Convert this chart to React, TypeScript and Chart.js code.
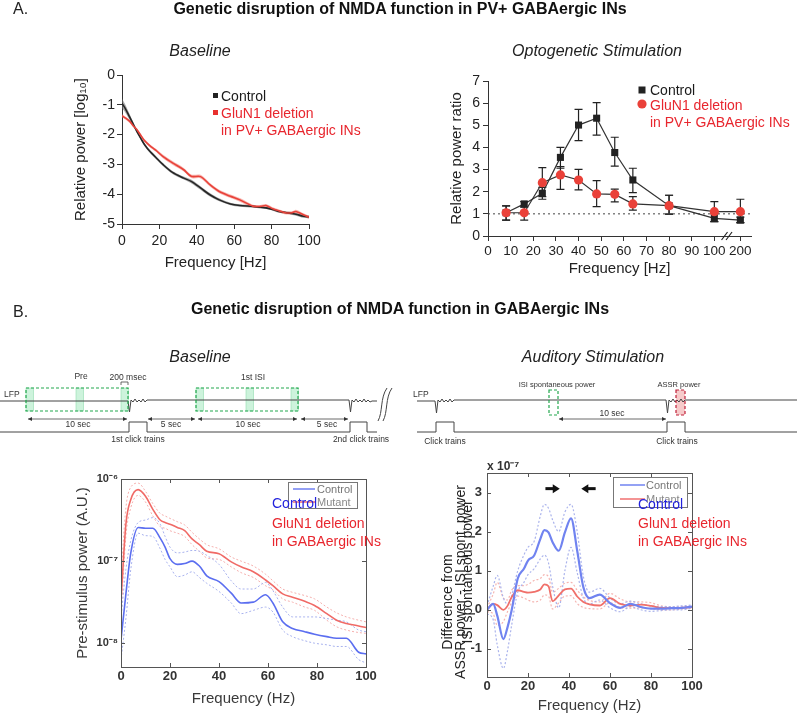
import React, { useEffect, useRef } from 'react';
import { Chart, registerables } from 'chart.js';
Chart.register(...registerables);

const FONT = '"Liberation Sans", Arial, Helvetica, sans-serif';
Chart.defaults.font.family = FONT;

// ---------------- Panel A1: Baseline relative power ----------------
const a1Freq = [0, 2, 4, 6, 8, 10, 12, 15, 18, 22, 27, 33, 37, 42, 47, 52, 58, 63, 70, 74, 77, 81, 84, 88, 91, 93, 97, 100];
const a1Control = [-0.95, -1.15, -1.4, -1.65, -1.9, -2.12, -2.33, -2.57, -2.76, -3.01, -3.27, -3.46, -3.57, -3.79, -4.02, -4.19, -4.33, -4.38, -4.41, -4.44, -4.46, -4.52, -4.58, -4.62, -4.65, -4.67, -4.74, -4.76];
const a1ControlSem = [0.16, 0.13, 0.1, 0.07, 0.05, 0.05, 0.05, 0.05, 0.05, 0.05, 0.05, 0.05, 0.06, 0.06, 0.06, 0.05, 0.04, 0.04, 0.04, 0.04, 0.04, 0.04, 0.04, 0.04, 0.05, 0.05, 0.05, 0.05];
const a1Mutant = [-1.37, -1.45, -1.55, -1.7, -1.84, -2.02, -2.2, -2.38, -2.52, -2.74, -2.95, -3.18, -3.4, -3.41, -3.68, -3.91, -4.07, -4.19, -4.4, -4.41, -4.38, -4.5, -4.56, -4.63, -4.62, -4.58, -4.69, -4.77];
const a1MutantSem = [0.05, 0.05, 0.05, 0.05, 0.05, 0.05, 0.05, 0.05, 0.05, 0.06, 0.06, 0.06, 0.06, 0.06, 0.06, 0.06, 0.06, 0.06, 0.05, 0.05, 0.05, 0.05, 0.05, 0.05, 0.05, 0.06, 0.05, 0.05];
const a1XTicks = [0, 20, 40, 60, 80, 100];
const a1YTicks = [0, -1, -2, -3, -4, -5];

// ---------------- Panel A2: Optogenetic stimulation ----------------
const a2Freq = [8, 16, 24, 32, 40, 48, 56, 64, 80, 100, 200];
const a2Control = [1.05, 1.45, 1.93, 3.55, 5.01, 5.32, 3.77, 2.53, 1.37, 0.8, 0.72];
const a2ControlLo = [0.72, 1.32, 1.66, 3.06, 4.31, 4.56, 3.16, 1.96, 0.99, 0.65, 0.6];
const a2ControlHi = [1.36, 1.55, 2.2, 4.0, 5.72, 6.02, 4.46, 3.06, 1.84, 1.0, 0.85];
const a2Mutant = [1.05, 1.05, 2.41, 2.76, 2.53, 1.9, 1.88, 1.45, 1.37, 1.1, 1.1];
const a2MutantLo = [0.72, 0.72, 1.78, 2.11, 2.08, 1.33, 1.54, 1.17, 0.99, 0.65, 0.6];
const a2MutantHi = [1.36, 1.3, 3.09, 3.13, 3.01, 2.5, 2.12, 1.78, 1.84, 1.55, 1.66];
const a2XTickFreqs = [0, 10, 20, 30, 40, 50, 60, 70, 80, 90, 100, 200];
const a2YTicks = [0, 1, 2, 3, 4, 5, 6, 7];
const a2Reference = 1;
const a2BreakAt = 100;
const a2BreakScale = 0.115; // compression of the axis after the break (100 -> 200 Hz)
const a2BreakMarks = [104.5, 106.5];
const axisX = (f: number) => (f <= a2BreakAt ? f : a2BreakAt + (f - a2BreakAt) * a2BreakScale);
const invAxisX = (v: number) => (v <= a2BreakAt ? v : a2BreakAt + (v - a2BreakAt) / a2BreakScale);

// ---------------- Panel B1: Pre-stimulus power (log10 values) ----------------
const b1Freq = [0, 2, 4, 7, 10, 13, 16, 18, 20, 23, 26, 29, 32, 35, 40, 45, 49, 54, 59, 62, 66, 70, 75, 79, 84, 88, 92, 97, 100];
const b1ControlLog = [-7.96, -7.4, -6.9, -6.59, -6.6, -6.6, -6.72, -6.83, -6.97, -7.04, -7.03, -7.0, -7.06, -7.18, -7.25, -7.39, -7.51, -7.5, -7.41, -7.51, -7.74, -7.82, -7.86, -7.89, -7.92, -7.94, -7.94, -8.11, -8.13];
const b1ControlHiLog = [-7.7, -7.1, -6.75, -6.53, -6.5, -6.47, -6.55, -6.7, -6.83, -6.9, -6.89, -6.87, -6.88, -6.93, -7.04, -7.24, -7.34, -7.34, -7.26, -7.36, -7.56, -7.68, -7.68, -7.68, -7.7, -7.72, -7.74, -7.84, -7.86];
const b1ControlLoLog = [-8.2, -7.7, -7.1, -6.66, -6.69, -6.7, -6.85, -6.98, -7.07, -7.19, -7.17, -7.13, -7.2, -7.27, -7.37, -7.51, -7.64, -7.6, -7.56, -7.62, -7.84, -7.92, -7.97, -8.0, -8.02, -8.04, -8.04, -8.2, -8.24];
const b1MutantLog = [-7.48, -6.55, -6.25, -6.13, -6.21, -6.37, -6.5, -6.53, -6.55, -6.59, -6.63, -6.73, -6.8, -6.88, -6.91, -7.01, -7.07, -7.13, -7.23, -7.3, -7.4, -7.44, -7.49, -7.54, -7.64, -7.72, -7.76, -7.79, -7.81];
const b1MutantHiLog = [-7.2, -6.35, -6.1, -6.05, -6.15, -6.3, -6.42, -6.45, -6.48, -6.52, -6.56, -6.65, -6.73, -6.8, -6.85, -6.95, -7.0, -7.06, -7.16, -7.24, -7.34, -7.38, -7.42, -7.46, -7.56, -7.63, -7.68, -7.72, -7.74];
const b1MutantLoLog = [-7.7, -6.7, -6.35, -6.2, -6.28, -6.45, -6.58, -6.6, -6.63, -6.66, -6.7, -6.8, -6.88, -6.96, -6.98, -7.07, -7.14, -7.2, -7.3, -7.35, -7.46, -7.5, -7.56, -7.6, -7.72, -7.8, -7.84, -7.87, -7.88];
const b1YTickExp = [-8, -7, -6];
const b1YMinExp = -8.29;
const b1YMaxExp = -6;
const b1XTicks = [0, 20, 40, 60, 80, 100];

// ---------------- Panel B2: ASSR difference (x 1e-7) ----------------
const b2Freq = [0, 3, 5, 8, 10, 12, 15, 18, 20, 23, 26, 28, 30, 32, 35, 38, 41, 44, 47, 50, 55, 60, 65, 70, 75, 80, 85, 90, 95, 100];
const b2Control = [0, 0.15, -0.15, -0.75, -0.45, -0.02, 0.8, 1.05, 1.26, 1.39, 1.81, 2.04, 1.98, 1.73, 1.51, 1.98, 2.34, 1.51, 0.58, 0.3, 0.39, 0.17, 0.05, 0.15, 0.07, 0.03, 0.03, 0.04, 0.05, 0.08];
const b2ControlHi = [0.1, 0.6, 0.88, 0.3, 0.15, 0.35, 1.0, 1.4, 1.6, 1.75, 2.4, 2.7, 2.6, 2.3, 2.0, 2.5, 2.7, 2.0, 0.85, 0.45, 0.55, 0.3, 0.15, 0.22, 0.15, 0.1, 0.08, 0.08, 0.1, 0.12];
const b2ControlLo = [-0.1, -0.25, -0.9, -1.5, -1.05, -0.4, 0.45, 0.7, 0.9, 1.05, 1.3, 1.4, 1.2, 0.6, 0.05, 1.0, 1.6, 0.95, 0.3, 0.15, 0.25, 0.05, -0.05, 0.08, 0.0, -0.04, -0.02, 0.0, 0.0, 0.04];
const b2Mutant = [0, 0.15, 0.12, 0.0, 0.1, 0.32, 0.5, 0.46, 0.44, 0.46, 0.52, 0.65, 0.6, 0.22, 0.37, 0.52, 0.54, 0.34, 0.2, 0.14, 0.11, 0.3, 0.15, 0.11, 0.13, 0.1, 0.05, 0.04, 0.05, 0.07];
const b2MutantHi = [0.05, 0.4, 0.7, 0.3, 0.25, 0.5, 0.62, 0.62, 0.65, 0.75, 0.8, 0.9, 0.85, 0.45, 0.55, 0.68, 0.7, 0.5, 0.33, 0.24, 0.2, 0.42, 0.28, 0.2, 0.2, 0.18, 0.1, 0.08, 0.08, 0.1];
const b2MutantLo = [-0.05, -0.1, -0.4, -0.3, -0.05, 0.18, 0.35, 0.3, 0.25, 0.2, 0.25, 0.38, 0.35, 0.02, 0.18, 0.35, 0.36, 0.16, 0.06, 0.03, 0.02, 0.18, 0.06, 0.04, 0.05, 0.03, 0.0, 0.0, 0.02, 0.04];
const b2YTicks = [-1, 0, 1, 2, 3];
const b2XTicks = [0, 20, 40, 60, 80, 100];
const b2YMin = -1.72;
const b2YMax = 3.5;
const b2ArrowLevel = 3.1;
const b2ArrowFrom = [28.5, 53];
const b2ArrowTo = [35.5, 46];

// ---------------- helpers ----------------
const SUP: Record<string, string> = { '-': '⁻', '0': '⁰', '1': '¹', '2': '²', '3': '³', '4': '⁴', '5': '⁵', '6': '⁶', '7': '⁷', '8': '⁸', '9': '⁹' };
const sup = (s: string) => s.split('').map((c) => SUP[c] || c).join('');

const baseOptions = () => ({
  animation: false,
  responsive: false,
  devicePixelRatio: 1,
  events: [],
  plugins: { legend: { display: false }, tooltip: { enabled: false } },
});

const fixTicks = (vals: number[]) => (s: any) => {
  s.ticks = vals.map((v) => ({ value: v }));
};

const matlabFrame = {
  id: 'matlabFrame',
  afterDatasetsDraw(chart: any) {
    const { ctx, chartArea: a, scales } = chart;
    const x = scales.x;
    const y = scales.y;
    ctx.save();
    ctx.strokeStyle = '#555';
    ctx.lineWidth = 1;
    ctx.strokeRect(Math.round(a.left) + 0.5, Math.round(a.top) + 0.5, Math.round(a.right - a.left), Math.round(a.bottom - a.top));
    ctx.beginPath();
    x.ticks.forEach((t: any) => {
      const px = Math.round(x.getPixelForValue(t.value)) + 0.5;
      ctx.moveTo(px, a.bottom);
      ctx.lineTo(px, a.bottom - 4);
      ctx.moveTo(px, a.top);
      ctx.lineTo(px, a.top + 4);
    });
    y.ticks.forEach((t: any) => {
      const py = Math.round(y.getPixelForValue(t.value)) + 0.5;
      ctx.moveTo(a.left, py);
      ctx.lineTo(a.left + 4, py);
      ctx.moveTo(a.right, py);
      ctx.lineTo(a.right - 4, py);
    });
    ctx.stroke();
    ctx.restore();
  },
};

function pts(xs: number[], ys: number[]) {
  return xs.map((x, i) => ({ x, y: ys[i] }));
}

// ---------------- chart builders ----------------
function buildA1(): any {
  const ctrlHi = a1Control.map((v, i) => v + a1ControlSem[i]);
  const ctrlLo = a1Control.map((v, i) => v - a1ControlSem[i]);
  const mutHi = a1Mutant.map((v, i) => v + a1MutantSem[i]);
  const mutLo = a1Mutant.map((v, i) => v - a1MutantSem[i]);
  const line = { pointRadius: 0, tension: 0.3, fill: false };
  return {
    type: 'line',
    data: {
      datasets: [
        { ...line, data: pts(a1Freq, a1Mutant), borderColor: '#e8423a', borderWidth: 1.6 },
        { ...line, data: pts(a1Freq, a1Control), borderColor: '#262626', borderWidth: 1.6 },
        { ...line, data: pts(a1Freq, mutHi), borderWidth: 0, borderColor: 'rgba(0,0,0,0)' },
        { ...line, data: pts(a1Freq, mutLo), borderWidth: 0, borderColor: 'rgba(0,0,0,0)', fill: '-1', backgroundColor: 'rgba(242,120,110,0.55)' },
        { ...line, data: pts(a1Freq, ctrlHi), borderWidth: 0, borderColor: 'rgba(0,0,0,0)' },
        { ...line, data: pts(a1Freq, ctrlLo), borderWidth: 0, borderColor: 'rgba(0,0,0,0)', fill: '-1', backgroundColor: 'rgba(110,110,110,0.6)' },
      ],
    },
    options: {
      ...baseOptions(),
      layout: { padding: { top: 15, right: 21, left: 0, bottom: 0 } },
      scales: {
        x: {
          type: 'linear', min: 0, max: 100,
          afterBuildTicks: fixTicks(a1XTicks),
          ticks: { color: '#222', font: { size: 14 }, padding: 4, maxRotation: 0 },
          grid: { drawOnChartArea: false, tickLength: 5, color: '#333' },
          border: { color: '#333' },
          title: { display: true, text: 'Frequency [Hz]', color: '#222', font: { size: 15 }, padding: { top: 0, bottom: 8 } },
          afterFit: (s: any) => { s.height = 56; },
        },
        y: {
          type: 'linear', min: -5, max: 0,
          afterBuildTicks: fixTicks(a1YTicks),
          ticks: { color: '#222', font: { size: 14 }, padding: 2 },
          grid: { drawOnChartArea: false, tickLength: 5, color: '#333' },
          border: { color: '#333' },
          title: { display: true, text: 'Relative power [log₁₀]', color: '#222', font: { size: 15 }, padding: { top: 12, bottom: 0 } },
          afterFit: (s: any) => { s.width = 62; },
        },
      },
    },
  };
}

function buildA2(): any {
  const errorBars = {
    id: 'errorBars',
    beforeDatasetsDraw(chart: any) {
      const { ctx, scales } = chart;
      const x = scales.x;
      const y = scales.y;
      ctx.save();
      ctx.strokeStyle = '#222';
      ctx.lineWidth = 1.2;
      [[a2ControlLo, a2ControlHi], [a2MutantLo, a2MutantHi]].forEach(([lo, hi]) => {
        a2Freq.forEach((f, i) => {
          const px = x.getPixelForValue(axisX(f));
          const pl = y.getPixelForValue(lo[i]);
          const ph = y.getPixelForValue(hi[i]);
          ctx.beginPath();
          ctx.moveTo(px, pl); ctx.lineTo(px, ph);
          ctx.moveTo(px - 4, pl); ctx.lineTo(px + 4, pl);
          ctx.moveTo(px - 4, ph); ctx.lineTo(px + 4, ph);
          ctx.stroke();
        });
      });
      ctx.restore();
    },
    afterDraw(chart: any) {
      const { ctx, scales } = chart;
      const x = scales.x;
      const yb = chart.chartArea.bottom;
      ctx.save();
      ctx.strokeStyle = '#222';
      ctx.lineWidth = 1.2;
      a2BreakMarks.forEach((v) => {
        const px = x.getPixelForValue(v);
        ctx.beginPath();
        ctx.moveTo(px - 3, yb + 4);
        ctx.lineTo(px + 3, yb - 4);
        ctx.stroke();
      });
      ctx.restore();
    },
  };
  const xMax = 116.2;
  return {
    type: 'line',
    data: {
      datasets: [
        {
          data: pts(a2Freq.map(axisX), a2Mutant), borderColor: '#333', borderWidth: 1.2, tension: 0,
          pointStyle: 'circle', pointRadius: 4.6, pointBackgroundColor: '#ea4139', pointBorderColor: '#ea4139', pointBorderWidth: 0,
        },
        {
          data: pts(a2Freq.map(axisX), a2Control), borderColor: '#333', borderWidth: 1.2, tension: 0,
          pointStyle: 'rect', pointRadius: 5, pointBackgroundColor: '#222', pointBorderColor: '#222', pointBorderWidth: 0,
        },
        {
          data: [{ x: 0, y: a2Reference }, { x: xMax, y: a2Reference }], borderColor: '#444', borderWidth: 1,
          borderDash: [2, 3], pointRadius: 0,
        },
      ],
    },
    options: {
      ...baseOptions(),
      layout: { padding: { top: 21, right: 39, left: 0, bottom: 0 } },
      scales: {
        x: {
          type: 'linear', min: 0, max: xMax,
          afterBuildTicks: fixTicks(a2XTickFreqs.map(axisX)),
          ticks: { color: '#222', font: { size: 13.5 }, padding: 2, maxRotation: 0, autoSkip: false, callback: (v: number) => String(Math.round(invAxisX(v))) },
          grid: { drawOnChartArea: false, tickLength: 5, color: '#333' },
          border: { color: '#333' },
          title: { display: true, text: 'Frequency [Hz]', color: '#222', font: { size: 15 }, padding: { top: 0, bottom: 7 } },
          afterFit: (s: any) => { s.height = 49; },
        },
        y: {
          type: 'linear', min: 0, max: 7,
          afterBuildTicks: fixTicks(a2YTicks),
          ticks: { color: '#222', font: { size: 14 }, padding: 3 },
          grid: { drawOnChartArea: false, tickLength: 5, color: '#333' },
          border: { color: '#333' },
          title: { display: true, text: 'Relative power ratio', color: '#222', font: { size: 15 }, padding: { top: 8, bottom: 0 } },
          afterFit: (s: any) => { s.width = 48; },
        },
      },
    },
    plugins: [errorBars],
  };
}

function buildB1(): any {
  const toVal = (arr: number[]) => arr.map((e) => Math.pow(10, e));
  const solid = { pointRadius: 0, cubicInterpolationMode: 'monotone', fill: false };
  const dotted = { ...solid, borderWidth: 1, borderDash: [2, 2] };
  return {
    type: 'line',
    data: {
      datasets: [
        { ...solid, data: pts(b1Freq, toVal(b1ControlLog)), borderColor: '#5b6ef0', borderWidth: 1.6 },
        { ...solid, data: pts(b1Freq, toVal(b1MutantLog)), borderColor: '#f06a66', borderWidth: 1.6 },
        { ...dotted, data: pts(b1Freq, toVal(b1ControlHiLog)), borderColor: '#a8b2ee' },
        { ...dotted, data: pts(b1Freq, toVal(b1ControlLoLog)), borderColor: '#a8b2ee' },
        { ...dotted, data: pts(b1Freq, toVal(b1MutantHiLog)), borderColor: '#f5b0ae' },
        { ...dotted, data: pts(b1Freq, toVal(b1MutantLoLog)), borderColor: '#f5b0ae' },
      ],
    },
    options: {
      ...baseOptions(),
      layout: { padding: { top: 14, right: 14, left: 0, bottom: 0 } },
      scales: {
        x: {
          type: 'linear', min: 0, max: 100,
          afterBuildTicks: fixTicks(b1XTicks),
          ticks: { color: '#333', font: { size: 13, weight: 'bold' }, padding: 2, maxRotation: 0 },
          grid: { display: false, drawTicks: false },
          border: { display: false },
          title: { display: true, text: 'Frequency (Hz)', color: '#3a3a3a', font: { size: 15 }, padding: { top: 0, bottom: 7 } },
          afterFit: (s: any) => { s.height = 48; },
        },
        y: {
          type: 'logarithmic', min: Math.pow(10, b1YMinExp), max: Math.pow(10, b1YMaxExp),
          afterBuildTicks: fixTicks(b1YTickExp.map((e) => Math.pow(10, e))),
          ticks: { color: '#333', font: { size: 11, weight: 'bold' }, padding: 3, callback: (v: number) => '10' + sup(String(Math.round(Math.log10(v)))) },
          grid: { display: false, drawTicks: false },
          border: { display: false },
          title: { display: true, text: 'Pre-stimulus power (A.U.)', color: '#3a3a3a', font: { size: 15 }, padding: { top: 14, bottom: 0 } },
          afterFit: (s: any) => { s.width = 61; },
        },
      },
    },
    plugins: [matlabFrame],
  };
}

function buildB2(): any {
  const arrows = {
    id: 'b2Arrows',
    afterDatasetsDraw(chart: any) {
      const { ctx, scales } = chart;
      const x = scales.x;
      const y = scales.y;
      const py = y.getPixelForValue(b2ArrowLevel);
      ctx.save();
      ctx.fillStyle = '#111';
      ctx.strokeStyle = '#111';
      b2ArrowFrom.forEach((f, i) => {
        const x0 = x.getPixelForValue(f);
        const x1 = x.getPixelForValue(b2ArrowTo[i]);
        const dir = Math.sign(x1 - x0);
        ctx.lineWidth = 3;
        ctx.beginPath();
        ctx.moveTo(x0, py);
        ctx.lineTo(x1 - dir * 5, py);
        ctx.stroke();
        ctx.beginPath();
        ctx.moveTo(x1, py);
        ctx.lineTo(x1 - dir * 7, py - 4.5);
        ctx.lineTo(x1 - dir * 7, py + 4.5);
        ctx.closePath();
        ctx.fill();
      });
      ctx.restore();
    },
  };
  const solid = { pointRadius: 0, cubicInterpolationMode: 'monotone', fill: false };
  const dotted = { ...solid, borderWidth: 1.2, borderDash: [2, 2] };
  return {
    type: 'line',
    data: {
      datasets: [
        { ...solid, data: pts(b2Freq, b2Control), borderColor: '#7083f0', borderWidth: 2.2 },
        { ...solid, data: pts(b2Freq, b2Mutant), borderColor: '#f0706a', borderWidth: 1.8 },
        { ...dotted, data: pts(b2Freq, b2ControlHi), borderColor: '#aab3ec' },
        { ...dotted, data: pts(b2Freq, b2ControlLo), borderColor: '#aab3ec' },
        { ...dotted, data: pts(b2Freq, b2MutantHi), borderColor: '#f5b4b0' },
        { ...dotted, data: pts(b2Freq, b2MutantLo), borderColor: '#f5b4b0' },
      ],
    },
    options: {
      ...baseOptions(),
      layout: { padding: { top: 13, right: 98, left: 0, bottom: 0 } },
      scales: {
        x: {
          type: 'linear', min: 0, max: 100,
          afterBuildTicks: fixTicks(b2XTicks),
          ticks: { color: '#333', font: { size: 13, weight: 'bold' }, padding: 2, maxRotation: 0 },
          grid: { display: false, drawTicks: false },
          border: { display: false },
          title: { display: true, text: 'Frequency (Hz)', color: '#3a3a3a', font: { size: 15 }, padding: { top: 0, bottom: 0 } },
          afterFit: (s: any) => { s.height = 38; },
        },
        y: {
          type: 'linear', min: b2YMin, max: b2YMax,
          afterBuildTicks: fixTicks(b2YTicks),
          ticks: { color: '#333', font: { size: 13, weight: 'bold' }, padding: 5 },
          grid: { display: false, drawTicks: false },
          border: { display: false },
          title: { display: false },
          afterFit: (s: any) => { s.width = 57; },
        },
      },
    },
    plugins: [matlabFrame, arrows],
  };
}

// ---------------- components ----------------
type Box = { left: number; top: number; width: number; height: number };

function ChartCanvas({ box, build }: { box: Box; build: () => any }) {
  const ref = useRef<HTMLCanvasElement>(null);
  useEffect(() => {
    const chart = new Chart(ref.current as HTMLCanvasElement, build());
    return () => chart.destroy();
  }, []);
  return (
    <canvas
      ref={ref}
      width={box.width}
      height={box.height}
      style={{ position: 'absolute', left: box.left, top: box.top, width: box.width, height: box.height }}
    />
  );
}

const zig = 'l2 2 l2 -3 l2 3 l2 -2 l2 2 l2 -3 l2 3 l2 -2';

function Overlay() {
  const small = { fontSize: 8.5, fill: '#333', fontFamily: FONT } as any;
  const legendTxt = { fontSize: 14, fontFamily: FONT, dominantBaseline: 'central' } as any;
  return (
    <svg width={800} height={716} style={{ position: 'absolute', left: 0, top: 0, pointerEvents: 'none' }}>
      <defs>
        <marker id="ah" viewBox="0 0 6 6" refX="6" refY="3" markerWidth="5" markerHeight="5" orient="auto-start-reverse">
          <path d="M0,0 L6,3 L0,6 z" fill="#333" />
        </marker>
      </defs>

      {/* Headings */}
      <text x={13} y={8} fontSize={16} fontFamily={FONT} fill="#222" dominantBaseline="central">A.</text>
      <text x={400} y={8} fontSize={16} fontWeight="bold" fontFamily={FONT} fill="#111" textAnchor="middle" dominantBaseline="central">Genetic disruption of NMDA function in PV+ GABAergic INs</text>
      <text x={200} y={50} fontSize={16} fontStyle="italic" fontFamily={FONT} fill="#222" textAnchor="middle" dominantBaseline="central">Baseline</text>
      <text x={597} y={50} fontSize={16} fontStyle="italic" fontFamily={FONT} fill="#222" textAnchor="middle" dominantBaseline="central">Optogenetic Stimulation</text>

      <text x={13} y={311} fontSize={16} fontFamily={FONT} fill="#222" dominantBaseline="central">B.</text>
      <text x={400} y={308} fontSize={16} fontWeight="bold" fontFamily={FONT} fill="#111" textAnchor="middle" dominantBaseline="central">Genetic disruption of NMDA function in GABAergic INs</text>
      <text x={200} y={356} fontSize={16} fontStyle="italic" fontFamily={FONT} fill="#222" textAnchor="middle" dominantBaseline="central">Baseline</text>
      <text x={593} y={356} fontSize={16} fontStyle="italic" fontFamily={FONT} fill="#222" textAnchor="middle" dominantBaseline="central">Auditory Stimulation</text>

      {/* A1 legend */}
      <rect x={213} y={93} width={5} height={5} fill="#222" />
      <text x={221} y={96} {...legendTxt} fill="#1a1a1a">Control</text>
      <rect x={213} y={110} width={5} height={5} fill="#e8302e" />
      <text x={221} y={113} {...legendTxt} fill="#e8262e">GluN1 deletion</text>
      <text x={221} y={130} {...legendTxt} fill="#e8262e">in PV+ GABAergic INs</text>

      {/* A2 legend */}
      <rect x={638.5} y={86.5} width={7} height={7} fill="#222" />
      <text x={650} y={90} {...legendTxt} fill="#1a1a1a">Control</text>
      <circle cx={642} cy={104} r={4.6} fill="#ea4139" />
      <text x={650} y={105} {...legendTxt} fill="#e8262e">GluN1 deletion</text>
      <text x={650} y={122} {...legendTxt} fill="#e8262e">in PV+ GABAergic INs</text>

      {/* Left schematic (Baseline) */}
      {[26, 76, 121, 196, 246, 291].map((x) => (
        <rect key={x} x={x} y={388} width={7.5} height={23} fill="#cdf3dc" stroke="#92ddb0" strokeWidth={0.6} />
      ))}
      <path d={`M0 401 H128 L129.5 412 L131 400 ${zig} H349 L350.5 412 L352 400 ${zig} l2 2 l2 -1 H377`} stroke="#444" fill="none" strokeWidth={1} />
      <rect x={26} y={388} width={102} height={23} fill="none" stroke="#23a84e" strokeDasharray="3 2" strokeWidth={1.2} />
      <rect x={196} y={388} width={102} height={23} fill="none" stroke="#23a84e" strokeDasharray="3 2" strokeWidth={1.2} />
      <path d="M0 432 H129 V422 H147 V432 H350 V422 H367 V432 H377" stroke="#444" fill="none" strokeWidth={1} />
      <path d="M378 421 C383 412 380 398 387 388 M383 421 C388 412 385 398 392 388" stroke="#444" fill="none" strokeWidth={1} />
      <path d="M121 385 V382 H128 V385" stroke="#444" fill="none" strokeWidth={0.8} />
      {[[28, 127], [148, 195], [198, 297], [301, 348]].map(([a, b]) => (
        <line key={a} x1={a} y1={419} x2={b} y2={419} stroke="#444" strokeWidth={0.8} markerStart="url(#ah)" markerEnd="url(#ah)" />
      ))}
      <text x={4} y={397} {...small}>LFP</text>
      <text x={81} y={379} {...small} textAnchor="middle">Pre</text>
      <text x={128} y={380} {...small} textAnchor="middle">200 msec</text>
      <text x={253} y={380} {...small} textAnchor="middle">1st ISI</text>
      <text x={78} y={427} {...small} textAnchor="middle">10 sec</text>
      <text x={171} y={427} {...small} textAnchor="middle">5 sec</text>
      <text x={248} y={427} {...small} textAnchor="middle">10 sec</text>
      <text x={327} y={427} {...small} textAnchor="middle">5 sec</text>
      <text x={138} y={442} {...small} textAnchor="middle">1st click trains</text>
      <text x={361} y={442} {...small} textAnchor="middle">2nd click trains</text>

      {/* Right schematic (Auditory) */}
      <rect x={676} y={390} width={9} height={25} fill="#f6caca" />
      <path d={`M417 401 H435 L436.5 413 L438 400 ${zig} H666 L667.5 413 L669 400 ${zig} H797`} stroke="#444" fill="none" strokeWidth={1} />
      <rect x={549} y={390} width={9} height={25} fill="none" stroke="#23a84e" strokeDasharray="3 2" strokeWidth={1.2} />
      <rect x={676} y={390} width={9} height={25} fill="none" stroke="#c0203a" strokeDasharray="3 2" strokeWidth={1.2} />
      <path d="M417 432 H436 V422 H454 V432 H667 V422 H685 V432 H797" stroke="#444" fill="none" strokeWidth={1} />
      <line x1={559} y1={419} x2={666} y2={419} stroke="#444" strokeWidth={0.8} markerStart="url(#ah)" markerEnd="url(#ah)" />
      <text x={413} y={397} {...small}>LFP</text>
      <text x={557} y={387} {...small} fontSize={7.5} textAnchor="middle">ISI spontaneous power</text>
      <text x={679} y={387} {...small} fontSize={7.5} textAnchor="middle">ASSR power</text>
      <text x={612} y={416} {...small} textAnchor="middle">10 sec</text>
      <text x={445} y={444} {...small} textAnchor="middle">Click trains</text>
      <text x={677} y={444} {...small} textAnchor="middle">Click trains</text>

      {/* B1 legend box + annotations */}
      <rect x={288.5} y={482.5} width={69} height={26} fill="#fff" stroke="#777" strokeWidth={1} />
      <line x1={293} y1={489} x2={315} y2={489} stroke="#6f7ff0" strokeWidth={1.5} />
      <line x1={293} y1={502} x2={315} y2={502} stroke="#f07070" strokeWidth={1.5} />
      <text x={317} y={489} fontSize={11} fontFamily={FONT} fill="#777" dominantBaseline="central">Control</text>
      <text x={317} y={502} fontSize={11} fontFamily={FONT} fill="#888" dominantBaseline="central">Mutant</text>
      <text x={272} y={503} {...legendTxt} fill="#2222dd">Control</text>
      <text x={272} y={523} {...legendTxt} fill="#e8262e">GluN1 deletion</text>
      <text x={272} y={541} {...legendTxt} fill="#e8262e">in GABAergic INs</text>

      {/* B2 legend box + annotations */}
      <rect x={613.5} y={477.5} width={74} height={30} fill="#fff" stroke="#777" strokeWidth={1} />
      <line x1={620} y1={485} x2={645} y2={485} stroke="#7083f0" strokeWidth={1.5} />
      <line x1={620} y1={499} x2={645} y2={499} stroke="#f07070" strokeWidth={1.5} />
      <text x={646} y={485} fontSize={11} fontFamily={FONT} fill="#777" dominantBaseline="central">Control</text>
      <text x={646} y={499} fontSize={11} fontFamily={FONT} fill="#888" dominantBaseline="central">Mutant</text>
      <text x={638} y={504} {...legendTxt} fill="#2222dd">Control</text>
      <text x={638} y={523} {...legendTxt} fill="#e8262e">GluN1 deletion</text>
      <text x={638} y={541} {...legendTxt} fill="#e8262e">in GABAergic INs</text>
      <text x={487} y={466} fontSize={12} fontWeight="bold" fontFamily={FONT} fill="#333" dominantBaseline="central">x 10⁻⁷</text>
      <text transform="translate(447,602) rotate(-90)" fontSize={14} fontFamily={FONT} fill="#222" textAnchor="middle" dominantBaseline="central">Difference  from</text>
      <text transform="translate(467,572) rotate(-90)" fontSize={14} fontFamily={FONT} fill="#222" textAnchor="middle" dominantBaseline="central">ISI spontaneous power</text>
      <text transform="translate(460,582) rotate(-90)" fontSize={14} fontFamily={FONT} fill="#222" textAnchor="middle" dominantBaseline="central">ASSR power - ISI spont. power</text>
    </svg>
  );
}

export default function App() {
  useEffect(() => {
    document.body.style.margin = '0';
  }, []);
  return (
    <div style={{ position: 'absolute', left: 0, top: 0, width: 800, height: 716, overflow: 'hidden', background: '#fff', fontFamily: FONT }}>
      <ChartCanvas box={{ left: 60, top: 60, width: 270, height: 220 }} build={buildA1} />
      <ChartCanvas box={{ left: 440, top: 60, width: 350, height: 225 }} build={buildA2} />
      <ChartCanvas box={{ left: 60, top: 465, width: 320, height: 250 }} build={buildB1} />
      <ChartCanvas box={{ left: 430, top: 460, width: 360, height: 255 }} build={buildB2} />
      <Overlay />
    </div>
  );
}
